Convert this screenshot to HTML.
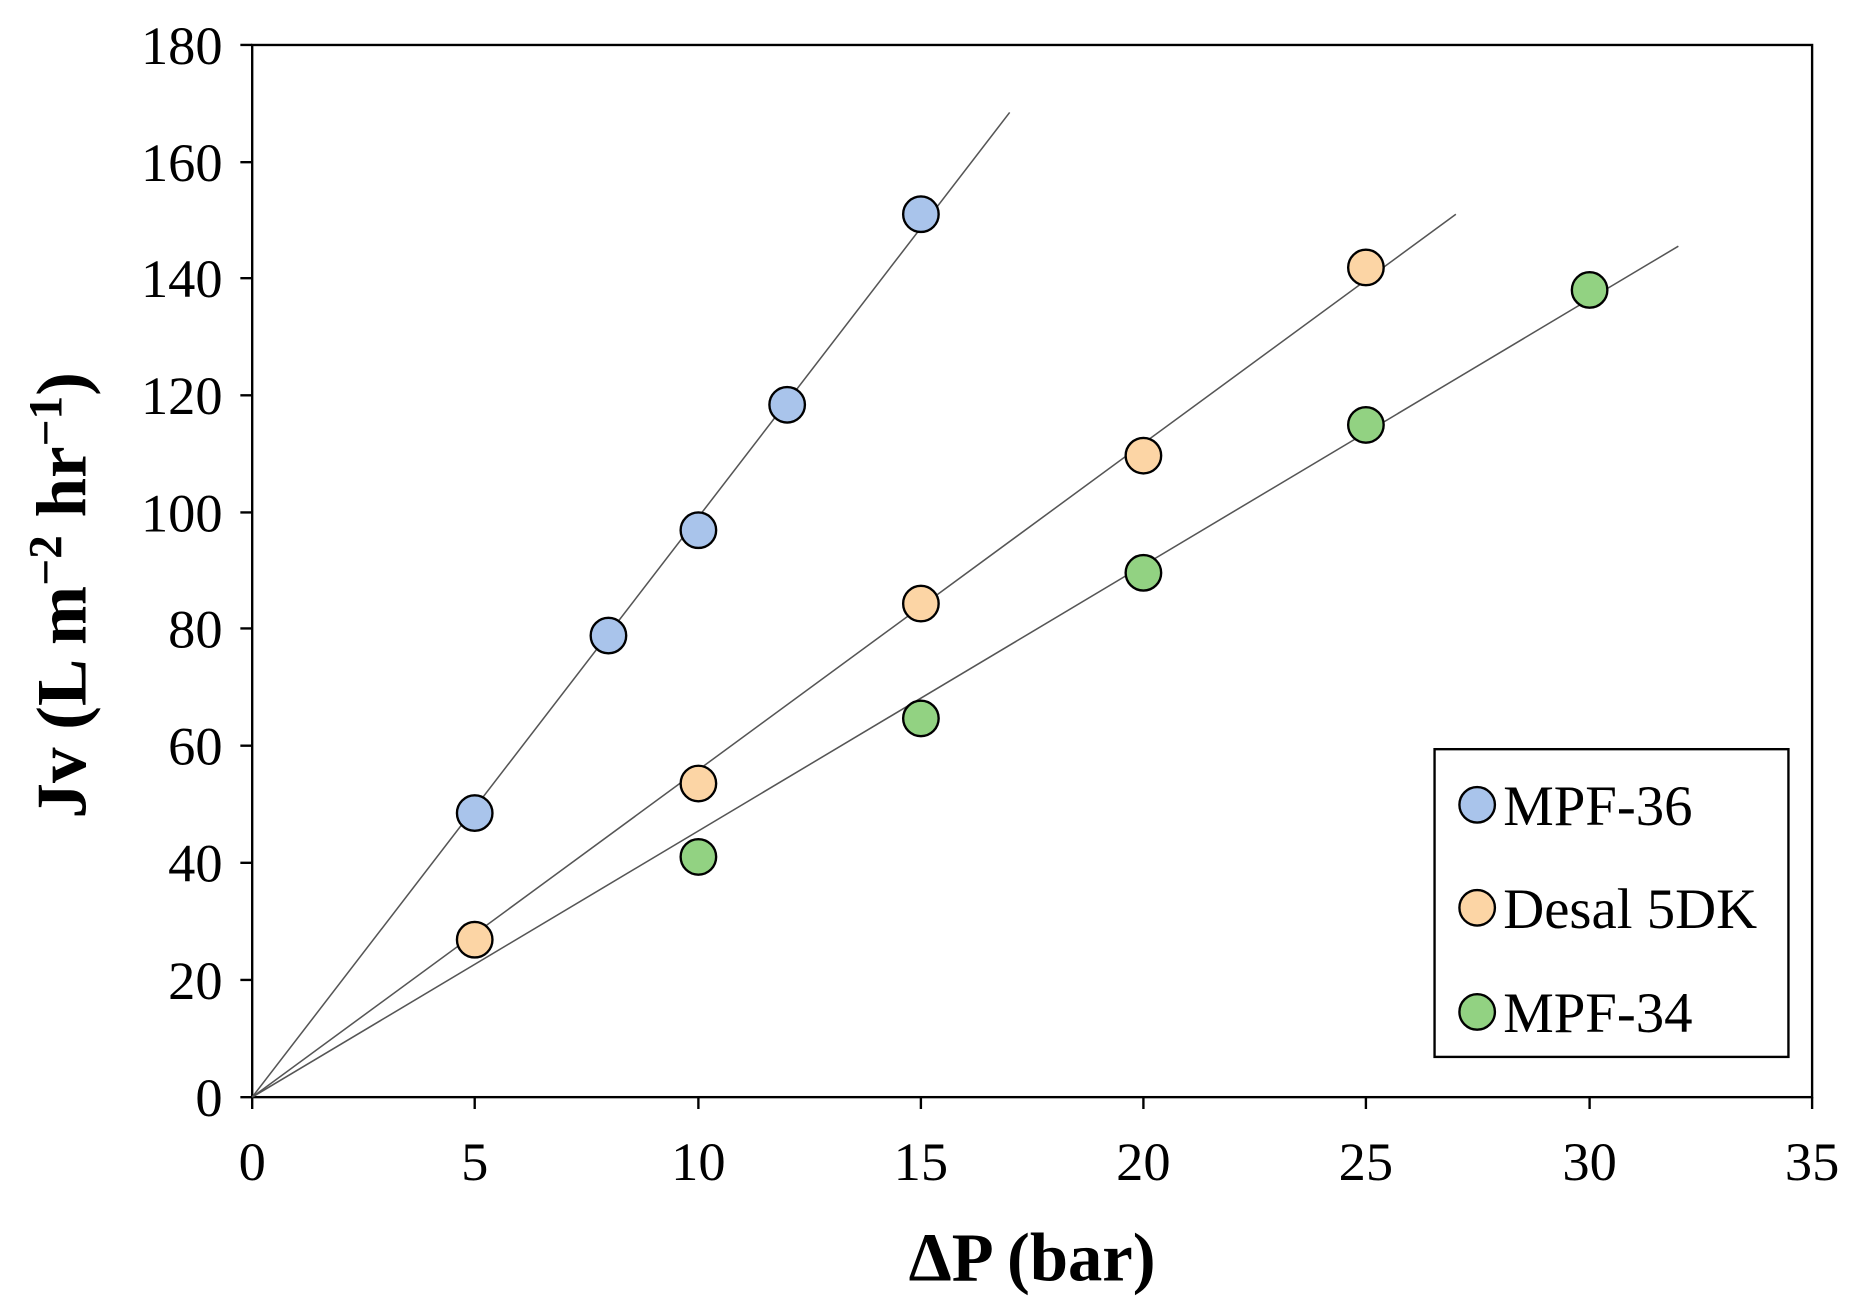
<!DOCTYPE html>
<html><head><meta charset="utf-8"><style>html,body{margin:0;padding:0;background:#fff}svg{display:block}</style></head>
<body>
<svg width="1856" height="1309" viewBox="0 0 1568 1106" xmlns="http://www.w3.org/2000/svg" font-family="Liberation Serif, serif">
<rect width="1568" height="1106" fill="#fff"/>
<g stroke="#000" stroke-width="2" fill="none">
<rect x="213" y="38" width="1318" height="889"/>
<path d="M203 38H213M203 137H213M203 235H213M203 334H213M203 433H213M203 531H213M203 630H213M203 729H213M203 828H213M203 927H213"/>
<path d="M213 927V937M401 927V937M590 927V937M778 927V937M966 927V937M1154 927V937M1343 927V937M1531 927V937"/>
</g>
<g font-size="46" text-anchor="end" fill="#000">
<text x="188" y="54">180</text><text x="188" y="153">160</text><text x="188" y="251">140</text><text x="188" y="350">120</text><text x="188" y="449">100</text><text x="188" y="547">80</text><text x="188" y="646">60</text><text x="188" y="745">40</text><text x="188" y="844">20</text><text x="188" y="943">0</text>
</g>
<g font-size="46" text-anchor="middle" fill="#000">
<text x="213" y="997">0</text><text x="401" y="997">5</text><text x="590" y="997">10</text><text x="778" y="997">15</text><text x="966" y="997">20</text><text x="1154" y="997">25</text><text x="1343" y="997">30</text><text x="1531" y="997">35</text>
</g>
<text x="872" y="1082" font-size="58" font-weight="bold" text-anchor="middle">ΔP (bar)</text>
<text transform="translate(72,503) rotate(-90)" font-size="60" font-weight="bold" text-anchor="middle">Jv (L m<tspan dy="-20" font-size="40">−2</tspan><tspan dy="20"> hr</tspan><tspan dy="-20" font-size="40">−1</tspan><tspan dy="20">)</tspan></text>
<g stroke="#555" stroke-width="1.3">
<line x1="213" y1="927" x2="853" y2="95"/>
<line x1="213" y1="927" x2="1230" y2="181"/>
<line x1="213" y1="927" x2="1418" y2="208"/>
</g>
<g stroke="#000" stroke-width="2">
<g fill="#a9c4eb">
<circle cx="401" cy="687" r="15"/><circle cx="514" cy="537" r="15"/><circle cx="590" cy="448" r="15"/><circle cx="665" cy="342" r="15"/><circle cx="778" cy="181" r="15"/>
</g>
<g fill="#fcd5a5">
<circle cx="401" cy="794" r="15"/><circle cx="590" cy="662" r="15"/><circle cx="778" cy="510" r="15"/><circle cx="966" cy="385" r="15"/><circle cx="1154" cy="226" r="15"/>
</g>
<g fill="#92d282">
<circle cx="590" cy="724" r="15"/><circle cx="778" cy="607" r="15"/><circle cx="966" cy="484" r="15"/><circle cx="1154" cy="359" r="15"/><circle cx="1343" cy="245" r="15"/>
</g>
<rect x="1212" y="633" width="299" height="260" fill="#fff"/>
<circle cx="1248" cy="680" r="15" fill="#a9c4eb"/>
<circle cx="1248" cy="767" r="15" fill="#fcd5a5"/>
<circle cx="1248" cy="855" r="15" fill="#92d282"/>
</g>
<g font-size="48" fill="#000">
<text x="1270" y="697">MPF-36</text><text x="1270" y="784">Desal 5DK</text><text x="1270" y="872">MPF-34</text>
</g>
</svg>
</body></html>
